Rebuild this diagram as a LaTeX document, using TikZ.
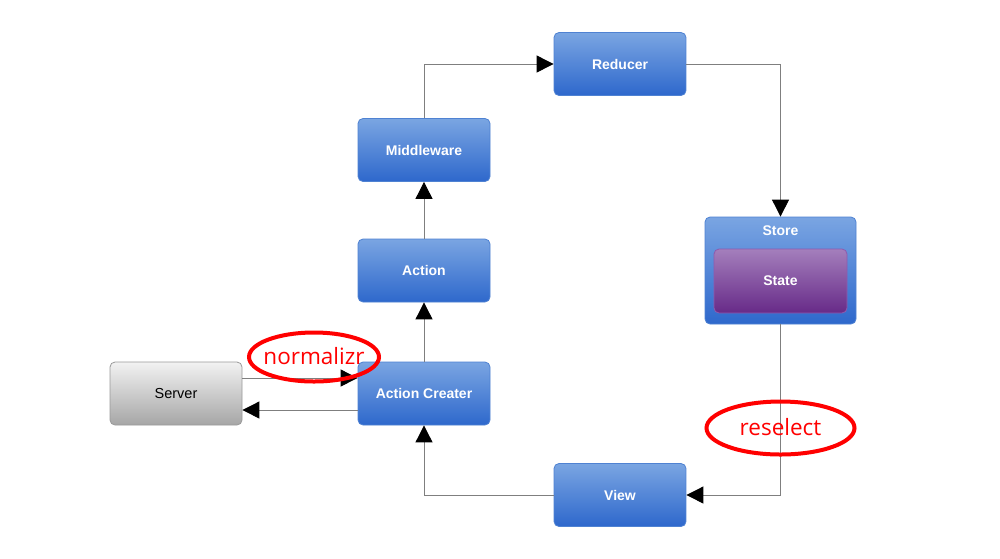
\documentclass[tikz,border=0pt]{standalone}
\usepackage{fontspec}
\setmainfont{Liberation Sans}
\newfontfamily\notefont{Open Sans}
\usetikzlibrary{arrows.meta,shapes.geometric}
\definecolor{bluetop}{HTML}{7AA5E2}
\definecolor{bluebot}{HTML}{2E68CC}
\definecolor{blueedge}{HTML}{4F82D2}
\definecolor{purtop}{HTML}{A47FBC}
\definecolor{purbot}{HTML}{672A88}
\definecolor{puredge}{HTML}{8E5AAE}
\definecolor{graytop}{HTML}{F2F2F2}
\definecolor{graybot}{HTML}{A6A6A6}
\definecolor{grayedge}{HTML}{9A9A9A}
\definecolor{linegray}{HTML}{7F7F7F}
\tikzset{
  boxfont/.style={font=\fontsize{14}{16}\selectfont\bfseries},
  bluebox/.style={draw=blueedge, line width=0.8pt, rounded corners=5pt, top color=bluetop, bottom color=bluebot,
    minimum width=132pt, minimum height=63pt, inner sep=0pt, text=white, boxfont},
  graybox/.style={draw=grayedge, line width=0.8pt, rounded corners=5pt, top color=graytop, bottom color=graybot,
    minimum width=132pt, minimum height=63pt, inner sep=0pt, text=black, font=\fontsize{14.5}{16}\selectfont},
  storebox/.style={draw=blueedge, line width=0.8pt, rounded corners=5pt, top color=bluetop, bottom color=bluebot,
    minimum width=151pt, minimum height=107pt, inner sep=0pt},
  statebox/.style={draw=puredge, line width=0.8pt, rounded corners=5pt, top color=purtop, bottom color=purbot,
    minimum width=133pt, minimum height=64pt, inner sep=0pt, text=white, boxfont},
  conn/.style={draw=linegray, line width=0.9pt, -{Triangle[length=17pt,width=17pt,fill=black,color=black]}},
  notetext/.style={inner sep=0pt, text=red, font=\notefont\fontsize{22.5}{25}\selectfont},
  noteline/.style={draw=red, line width=4pt},
}
\begin{document}
\begin{tikzpicture}[x=1pt,y=-1pt]
\useasboundingbox (0,0) rectangle (1000,558);
\fill[white] (0,0) rectangle (1000,558);
\node[bluebox] (reducer) at (620,64) {Reducer};
\node[bluebox] (middle) at (424,150) {Middleware};
\node[bluebox] (action) at (424,270.5) {Action};
\node[bluebox] (creator) at (424,393.5) {Action Creater};
\node[graybox] (server) at (176,393.5) {Server};
\node[bluebox] (view) at (620,495) {View};
\node[storebox] (store) at (780.5,270.5) {};
\node[text=white, boxfont] (storelabel) at (780.5,231) {Store};
\node[statebox] (state) at (780.5,281) {State};
\coordinate (c1) at (424,64);
\coordinate (c2) at (780.5,64);
\coordinate (c3) at (780.5,495);
\coordinate (c4) at (424,495);
\draw[conn] (middle.north) -- (c1) -- (reducer.west);
\draw[conn] (reducer.east) -- (c2) -- (store.north);
\draw[conn] (store.south) -- (c3) -- (view.east);
\draw[conn] (view.west) -- (c4) -- (creator.south);
\draw[conn] (creator.north) -- (action.south);
\draw[conn] (action.north) -- (middle.south);
\draw[conn] (server.east |- 0,378) -- (creator.west |- 0,378);
\draw[conn] (creator.west |- 0,410) -- (server.east |- 0,410);
\node[notetext] (normalizr) at (314,356) {normalizr};
\draw[noteline] (normalizr.center) ++(0,1) ellipse (65 and 24.5);
\node[notetext] (reselect) at (780.5,427) {reselect};
\draw[noteline] (reselect.center) ++(0,1) ellipse (74 and 26.5);
\end{tikzpicture}
\end{document}
